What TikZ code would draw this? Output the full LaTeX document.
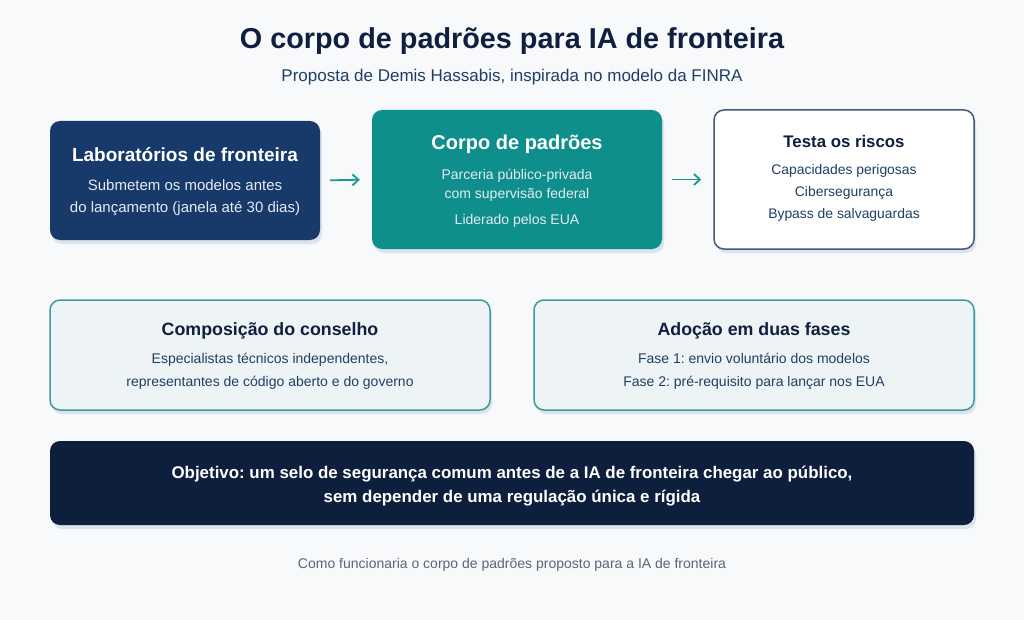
\documentclass[tikz,border=0pt]{standalone}
\usepackage{fontspec}
\setmainfont{Liberation Sans}
\frenchspacing
\usetikzlibrary{shadows,arrows.meta}
\definecolor{bg}{HTML}{F7F9FB}
\definecolor{navy}{HTML}{0F1F3D}
\definecolor{subc}{HTML}{1E3F66}
\definecolor{labblue}{HTML}{173A6B}
\definecolor{teal}{HTML}{0F8F8B}
\definecolor{tealline}{HTML}{3C9C99}
\definecolor{paneBg}{HTML}{EEF4F5}
\definecolor{goalc}{HTML}{0D1F3C}
\definecolor{riskline}{HTML}{44597A}
\definecolor{shad}{HTML}{DCE3EC}
\definecolor{capc}{HTML}{5A6575}
\definecolor{arrc}{HTML}{1A9A8F}
\definecolor{lighttxt}{HTML}{E4ECF5}
\tikzset{
  boxbase/.style={rounded corners=10pt, inner sep=0pt,
    drop shadow={shadow xshift=2pt, shadow yshift=-4pt, fill=shad, opacity=1}},
  labbox/.style={boxbase, fill=labblue},
  stdbox/.style={boxbase, fill=teal},
  riskbox/.style={boxbase, fill=white, draw=riskline, line width=1.5pt},
  panebox/.style={boxbase, fill=paneBg, draw=tealline, line width=1.5pt},
  goalbox/.style={boxbase, fill=goalc},
  flowarrow/.style={draw=arrc, line width=1.8pt, -{Straight Barb[length=6pt,width=11pt]}},
  txt/.style={inner sep=0pt, anchor=center, align=center, execute at begin node=\frenchspacing},
}
\begin{document}
\begin{tikzpicture}[x=1pt,y=-1pt]
\useasboundingbox[fill=bg] (0,0) rectangle (1024,620);
% title
\node[txt, text=navy, font=\fontsize{28.8}{32}\selectfont\bfseries] (title) at (512,41.5) {O corpo de padrões para IA de fronteira};
\node[txt, text=subc, font=\fontsize{17}{20}\selectfont] (subtitle) at (512,77) {Proposta de Demis Hassabis, inspirada no modelo da FINRA};
% row 1
\node[labbox, minimum width=270pt, minimum height=119pt] (lab) at (185,180.5) {};
\node[txt, text=white, font=\fontsize{19}{22}\selectfont\bfseries] (labt) at (185,155) {Laboratórios de fronteira};
\node[txt, text=lighttxt, font=\fontsize{15}{22}\selectfont] (labs) at (185,198) {Submetem os modelos antes\\do lançamento (janela até 30 dias)};

\node[stdbox, minimum width=290pt, minimum height=139pt] (std) at (517,179.5) {};
\node[txt, text=white, font=\fontsize{20}{23}\selectfont\bfseries] (stdt) at (517,144) {Corpo de padrões};
\node[txt, text=lighttxt, font=\fontsize{14}{19.5}\selectfont] (stds) at (517,185.5) {Parceria público-privada\\com supervisão federal};
\node[txt, text=lighttxt, font=\fontsize{14}{16}\selectfont] (stds2) at (517,221) {Liderado pelos EUA};

\node[riskbox, minimum width=260pt, minimum height=139pt] (risk) at (844,179.5) {};
\node[txt, text=navy, font=\fontsize{16.8}{19}\selectfont\bfseries] (riskt) at (844,141) {Testa os riscos};
\node[txt, text=subc, font=\fontsize{13.9}{22}\selectfont] (risks) at (844,193) {Capacidades perigosas\\Cibersegurança\\Bypass de salvaguardas};

\draw[flowarrow, shorten <=10pt, shorten >=12pt] (lab.east) -- (std.west);
\draw[flowarrow, shorten <=10pt, shorten >=12pt] (std.east) -- (risk.west);
% row 2
\node[panebox, minimum width=440pt, minimum height=110pt] (comp) at (270,355) {};
\node[txt, text=navy, font=\fontsize{17.8}{20}\selectfont\bfseries] (compt) at (270,331) {Composição do conselho};
\node[txt, text=subc, font=\fontsize{14}{23}\selectfont] (comps) at (270,371.5) {Especialistas técnicos independentes,\\representantes de código aberto e do governo};

\node[panebox, minimum width=440pt, minimum height=110pt] (adop) at (754,355) {};
\node[txt, text=navy, font=\fontsize{17.8}{20}\selectfont\bfseries] (adopt) at (754,331) {Adoção em duas fases};
\node[txt, text=subc, font=\fontsize{14}{23}\selectfont] (adops) at (754,371.5) {Fase 1: envio voluntário dos modelos\\Fase 2: pré-requisito para lançar nos EUA};
% goal
\node[goalbox, minimum width=924pt, minimum height=84pt] (goal) at (512,483) {};
\node[txt, text=white, font=\fontsize{16.9}{24}\selectfont\bfseries] (goalt) at (512,486) {Objetivo: um selo de segurança comum antes de a IA de fronteira chegar ao público,\\sem depender de uma regulação única e rígida};
% caption
\node[txt, text=capc, font=\fontsize{14}{16}\selectfont] (cap) at (512,565) {Como funcionaria o corpo de padrões proposto para a IA de fronteira};
\end{tikzpicture}
\end{document}
